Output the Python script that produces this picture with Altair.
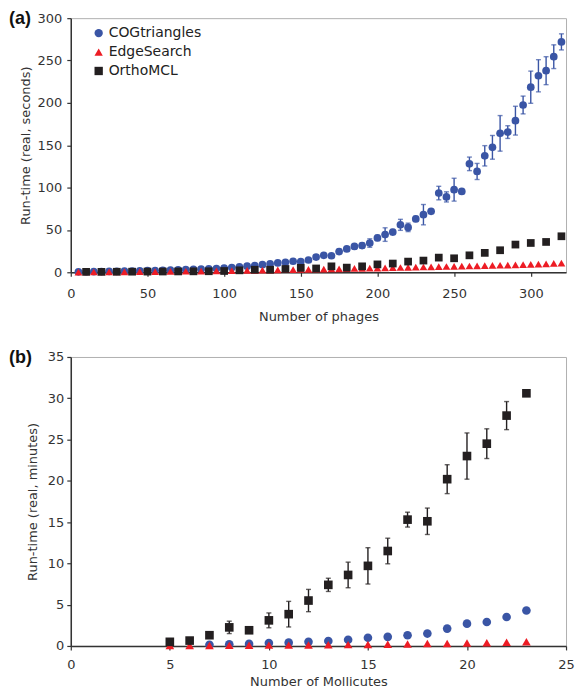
import altair as alt
import pandas as pd

BLUE = "#3a55a5"
RED = "#ed1c24"
BLACK = "#231f20"
TEXT = "#333333"
FONT = "DejaVu Sans"

series_names = ["COGtriangles", "EdgeSearch", "OrthoMCL"]
series_colors = [BLUE, RED, BLACK]
series_shapes = ["circle", "triangle-up", "square"]

# ---------------- Panel (a): phages, seconds ----------------
phages_5 = [5, 10, 15, 20, 25, 30, 35, 40, 45, 50, 55, 60, 65, 70, 75, 80,
            85, 90, 95, 100, 105, 110, 115, 120, 125, 130, 135, 140, 145, 150, 155, 160,
            165, 170, 175, 180, 185, 190, 195, 200, 205, 210, 215, 220, 225, 230, 235, 240,
            245, 250, 255, 260, 265, 270, 275, 280, 285, 290, 295, 300, 305, 310, 315, 320]
cog_a = [0.5, 0.6, 0.7, 0.8, 1.0, 1.1, 1.3, 1.5, 1.7, 1.9, 2.1, 2.3, 2.5, 2.8, 3.0, 3.3,
         3.6, 4.0, 4.4, 5.0, 5.6, 6.5, 7.2, 8.0, 9.0, 10.0, 11.0, 11.8, 13.0, 12.5, 14.5, 18.0,
         20.0, 19.5, 24.5, 27.5, 30.5, 31.5, 34.5, 40.5, 44.5, 47.5, 56.0, 53.0, 63.0, 68.0, 72.0, 93.5,
         89.0, 97.5, 95.5, 128.0, 119.0, 137.5, 147.5, 164.0, 165.5, 179.0, 197.5, 218.5, 232.0, 238.0, 254.5, 272.0]
cog_a_err = [0.2, 0.2, 0.2, 0.2, 0.2, 0.2, 0.2, 0.3, 0.3, 0.3, 0.3, 0.3, 0.3, 0.4, 0.4, 0.4,
             0.4, 0.5, 0.5, 0.5, 0.6, 0.6, 0.7, 0.8, 0.9, 1.0, 1.2, 1.3, 1.5, 1.5, 1.8, 2.0,
             2.0, 2.2, 2.5, 2.5, 3.0, 3.0, 5.0, 3.0, 8.0, 3.0, 6.5, 5.0, 3.0, 12.0, 2.0, 8.0,
             6.0, 13.5, 2.0, 8.0, 9.5, 12.0, 14.0, 21.0, 7.5, 17.0, 10.5, 19.0, 19.0, 16.5, 14.0, 9.5]
edge_a = [0.2, 0.3, 0.3, 0.4, 0.4, 0.5, 0.5, 0.6, 0.7, 0.8, 0.8, 0.9, 1.0, 1.1, 1.2, 1.3,
          1.4, 1.5, 1.6, 1.8, 1.9, 2.0, 2.2, 2.3, 2.5, 2.6, 2.8, 3.0, 3.1, 3.3, 3.5, 3.6,
          3.8, 4.0, 4.1, 4.3, 4.5, 4.7, 4.8, 5.0, 5.2, 5.4, 5.6, 5.8, 6.0, 6.2, 6.4, 6.6,
          6.8, 7.0, 7.2, 7.4, 7.6, 7.8, 8.1, 8.3, 8.5, 8.8, 9.0, 9.3, 9.6, 10.0, 10.4, 10.9]
phages_10 = [10, 20, 30, 40, 50, 60, 70, 80, 90, 100, 110, 120, 130, 140, 150, 160,
             170, 180, 190, 200, 210, 220, 230, 240, 250, 260, 270, 280, 290, 300, 310, 320]
ortho_a = [0.5, 0.5, 0.6, 0.7, 0.8, 0.9, 1.0, 1.1, 1.2, 1.5, 2.3, 3.0, 3.0, 3.9, 5.2, 4.5,
           7.0, 5.5, 7.0, 9.3, 10.3, 12.6, 13.8, 17.3, 16.5, 20.0, 22.9, 26.0, 32.7, 34.6, 35.8, 42.5]

# ---------------- Panel (b): Mollicutes, minutes ----------------
molli = [5, 6, 7, 8, 9, 10, 11, 12, 13, 14, 15, 16, 17, 18, 19, 20, 21, 22, 23]
ortho_b = [0.5, 0.65, 1.3, 2.25, 1.9, 3.1, 3.85, 5.5, 7.4, 8.6, 9.7, 11.5, 15.3, 15.1,
           20.2, 23.0, 24.5, 27.9, 30.6]
ortho_b_err = [0.0, 0.0, 0.0, 0.75, 0.0, 0.9, 1.55, 1.35, 0.8, 1.55, 2.2, 1.55, 0.9, 1.6,
               1.75, 2.8, 1.8, 1.7, 0.0]
molli_cog = [7, 8, 9, 10, 11, 12, 13, 14, 15, 16, 17, 18, 19, 20, 21, 22, 23]
cog_b = [0.15, 0.2, 0.25, 0.35, 0.4, 0.5, 0.6, 0.75, 1.0, 1.1, 1.3, 1.5, 2.1, 2.7, 2.9, 3.5, 4.3]
edge_b = [0.05, 0.05, 0.06, 0.07, 0.08, 0.1, 0.1, 0.12, 0.14, 0.16, 0.18, 0.2, 0.25, 0.3,
          0.3, 0.35, 0.4, 0.45, 0.5]


def frame(xs, ys, name, errs=None):
    d = pd.DataFrame({"n": xs, "t": ys, "series": name})
    d["err"] = errs if errs is not None else 0.0
    d["lo"] = d["t"] - d["err"]
    d["hi"] = d["t"] + d["err"]
    return d


df_a = pd.concat([
    frame(phages_5, cog_a, "COGtriangles", cog_a_err),
    frame(phages_5, edge_a, "EdgeSearch"),
    frame(phages_10, ortho_a, "OrthoMCL"),
], ignore_index=True)

df_b = pd.concat([
    frame(molli_cog, cog_b, "COGtriangles"),
    frame(molli, edge_b, "EdgeSearch"),
    frame(molli, ortho_b, "OrthoMCL", ortho_b_err),
], ignore_index=True)

axis_style = dict(labelFont=FONT, labelFontSize=13, labelColor=TEXT,
                  titleFont=FONT, titleFontSize=13, titleFontWeight="normal",
                  titleColor=TEXT, tickColor="#333333", tickSize=4, tickWidth=1.2,
                  domainColor="#333333", domainWidth=1.5, grid=False,
                  labelFlush=False, labelOverlap=False)

legend_a = alt.Legend(title=None, orient="none", legendX=21, legendY=8,
                      labelFont=FONT, labelFontSize=14, labelColor="#222222",
                      symbolSize=70, rowPadding=5, labelOffset=3, padding=0,
                      symbolStrokeWidth=0)


def panel(df, xdom, xvals, ydom, yvals, xtitle, ytitle, w, h, size, err_series,
          err_color, tag, legend, xlabpad, xtitlepad, ylabpad, ytitlepad):
    xenc = alt.X("n:Q", scale=alt.Scale(domain=xdom, nice=False, zero=False),
                 axis=alt.Axis(values=xvals, title=xtitle, labelPadding=xlabpad,
                               titlePadding=xtitlepad, **axis_style))
    yenc = alt.Y("t:Q", scale=alt.Scale(domain=ydom, nice=False),
                 axis=alt.Axis(values=yvals, title=ytitle, labelPadding=ylabpad,
                               titlePadding=ytitlepad, **axis_style))
    base = alt.Chart(df)
    errdf = base.transform_filter(alt.datum.series == err_series).transform_filter(alt.datum.err > 0)
    rules = errdf.mark_rule(color=err_color, strokeWidth=1.4).encode(
        x="n:Q", y="lo:Q", y2="hi:Q")
    caps_lo = errdf.mark_tick(color=err_color, orient="horizontal", size=5, thickness=1.4).encode(
        x="n:Q", y="lo:Q")
    caps_hi = errdf.mark_tick(color=err_color, orient="horizontal", size=5, thickness=1.4).encode(
        x="n:Q", y="hi:Q")
    pts = base.mark_point(filled=True, opacity=1, size=size, strokeWidth=0).encode(
        x=xenc, y=yenc,
        color=alt.Color("series:N", scale=alt.Scale(domain=series_names, range=series_colors),
                        legend=legend),
        shape=alt.Shape("series:N", scale=alt.Scale(domain=series_names, range=series_shapes),
                        legend=legend),
    )
    label = alt.Chart(pd.DataFrame({"tag": [tag]})).mark_text(
        align="left", baseline="middle", font="Liberation Sans", fontSize=18,
        fontWeight="bold", color="#111111").encode(
        text="tag:N", x=alt.value(-62), y=alt.value(1))
    return alt.layer(rules, caps_lo, caps_hi, pts, label).properties(width=w, height=h)


chart_a = panel(df_a, [0, 323], [0, 50, 100, 150, 200, 250, 300],
                [0, 300], [0, 50, 100, 150, 200, 250, 300],
                "Number of phages", "Run-time (real, seconds)", 497, 255, 60,
                "COGtriangles", BLUE, "(a)", legend_a, 11, 10, 5, 5)
chart_b = panel(df_b, [0, 25], [0, 5, 10, 15, 20, 25],
                [0, 35], [0, 5, 10, 15, 20, 25, 30, 35],
                "Number of Mollicutes", "Run-time (real, minutes)", 497, 290, 75,
                "OrthoMCL", BLACK, "(b)", None, 9, 4, 3, 8)

chart = alt.vconcat(chart_a, chart_b, spacing=24).resolve_scale(
    color="independent", shape="independent", x="independent", y="independent"
).resolve_legend(color="independent", shape="independent").properties(
    padding=0
).configure_view(stroke="#b0b0b0", strokeWidth=1)

chart.save("out.html", embed_options={"renderer": "svg", "actions": False})
